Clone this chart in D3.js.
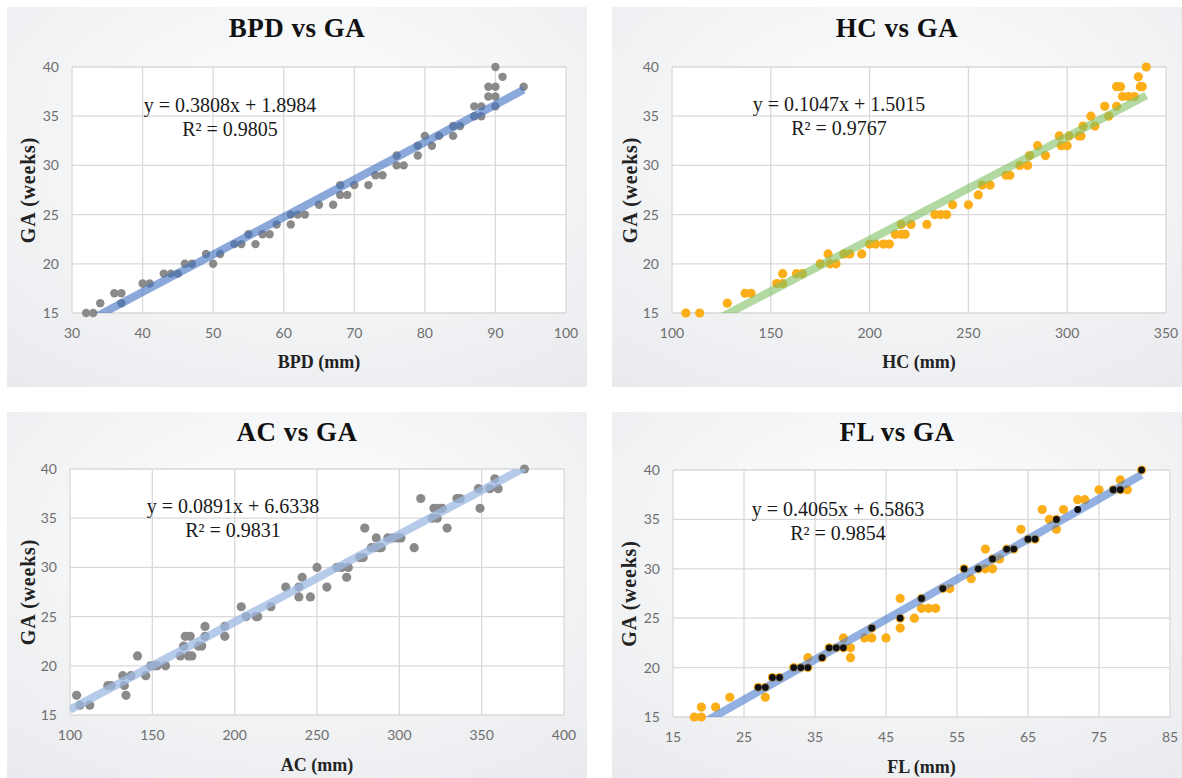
<!DOCTYPE html>
<html>
<head>
<meta charset="utf-8">
<script src="https://cdn.jsdelivr.net/npm/d3@7"></script>
<style>
  body { margin: 0; background: #ffffff; }
  svg { display: block; }
  .tick-label { font-family: Lato, "Liberation Sans", sans-serif; font-size: 14px; fill: #6e6e6e; }
  .title { font-family: "Liberation Serif", serif; font-weight: bold; font-size: 27px; fill: #111; letter-spacing: 0.5px; }
  .axis-title { font-family: "Liberation Serif", serif; font-weight: bold; font-size: 18px; fill: #222; }
  .y-title { font-size: 20px; letter-spacing: 0.8px; }
  .eq { font-family: "Liberation Serif", serif; font-size: 20px; fill: #1a1a1a; }
</style>
</head>
<body>
<svg id="chart" width="1182" height="778"></svg>
<script>
// Shared y axis (gestational age, weeks)
const gaTicks = [15, 20, 25, 30, 35, 40];

// BPD vs GA
const bpdValues = [32,33,34,36,37,37,40,41,43,44,45,46,47,49,50,51,53,54,55,56,57,58,59,61,61,62,63,65,67,68,68,69,70,72,73,74,76,76,77,79,79,80,81,82,84,84,85,87,87,88,88,89,89,90,90,90,90,91,94];
const bpdGA = [15,15,16,17,17,16,18,18,19,19,19,20,20,21,20,21,22,22,23,22,23,23,24,25,24,25,25,26,26,28,27,27,28,28,29,29,31,30,30,31,32,33,32,33,34,33,34,36,35,36,35,38,37,40,38,37,36,39,38];
const bpdTicks = [30, 40, 50, 60, 70, 80, 90, 100];
const bpdFit = [0.3808, 1.8984];
const bpdFitRange = [32, 94];

// HC vs GA
const hcValues = [107,114,128,137,140,153,156,156,163,166,175,179,180,183,187,190,196,200,203,207,210,213,216,218,216,221,229,233,236,239,242,250,255,257,261,269,271,276,280,281,285,289,296,297,300,301,306,307,308,312,314,319,321,325,325,327,328,331,334,336,337,338,340];
const hcGA = [15,15,16,17,17,18,18,19,19,19,20,21,20,20,21,21,21,22,22,22,22,23,23,23,24,24,24,25,25,25,26,26,27,28,28,29,29,30,30,31,32,31,33,32,32,33,33,33,34,35,34,36,35,36,38,38,37,37,37,39,38,38,40];
const hcTicks = [100, 150, 200, 250, 300, 350];
const hcFit = [0.1047, 1.5015];
const hcFitRange = [107, 340];

// AC vs GA
const acValues = [104,106,112,123,125,132,133,134,137,141,146,149,151,153,158,167,169,170,172,173,174,178,180,182,182,194,194,204,207,213,214,222,231,239,239,241,246,250,256,262,265,268,269,276,278,279,283,285,286,288,289,293,296,299,301,309,313,320,321,323,324,326,329,335,337,348,349,355,358,360,376];
const acGA = [17,16,16,18,18,19,18,17,19,21,19,20,20,20,20,21,22,23,21,23,21,22,22,23,24,23,24,26,25,25,25,26,28,28,27,29,27,30,28,30,30,29,30,31,31,34,32,32,33,32,32,33,33,33,33,32,37,35,36,35,36,36,34,37,37,38,36,38,39,38,40];
const acTicks = [100, 150, 200, 250, 300, 350, 400];
const acFit = [0.0891, 6.6338];
const acFitRange = [100, 376];

// FL vs GA (orange = all points, black = second series)
const flValues = [18,19,19,21,23,27,28,28,29,30,32,33,34,34,36,37,38,39,39,40,40,42,43,43,45,47,47,47,49,50,50,51,52,53,54,56,57,58,59,59,60,60,61,62,63,64,65,66,67,68,69,69,70,72,73,75,77,78,78,79,81];
const flGA = [15,15,16,16,17,18,18,17,19,19,20,20,21,20,21,22,22,22,23,22,21,23,23,24,23,27,25,24,25,26,27,26,26,28,28,30,29,30,32,30,30,31,31,32,32,34,33,33,36,35,34,35,36,37,37,38,38,39,38,38,40];
const flBlackValues = [27,28,29,30,32,33,34,36,37,38,39,43,47,50,53,56,58,60,62,63,65,66,69,72,77,78,81];
const flBlackGA = [18,18,19,19,20,20,20,21,22,22,22,24,25,27,28,30,30,31,32,32,33,33,35,36,38,38,40];
const flTicks = [15, 25, 35, 45, 55, 65, 75, 85];
const flFit = [0.4065, 6.5863];
const flFitRange = [18, 81];

const svg = d3.select("#chart");

// panel background gradient
const defs = svg.append("defs");
const grad = defs.append("radialGradient")
  .attr("id", "panelBg")
  .attr("cx", "50%").attr("cy", "35%").attr("r", "80%");
grad.append("stop").attr("offset", "0%").attr("stop-color", "#ffffff");
grad.append("stop").attr("offset", "100%").attr("stop-color", "#e9ebee");

const panels = [
  {
    title: "BPD vs GA", xLabel: "BPD (mm)",
    xs: bpdValues, ys: bpdGA, ticks: bpdTicks, fit: bpdFit, fitRange: bpdFitRange,
    r2: "0.9805",
    box: [7, 7, 580, 380], plot: [72, 67, 566, 313],
    titleY: 37, xLabelY: 368, yLabelX: 28, eq: [230, 105],
    dot: "#8a8a8a", dotR: 4.2, line: "#4472c4", lineOpacity: 0.62
  },
  {
    title: "HC vs GA", xLabel: "HC (mm)",
    xs: hcValues, ys: hcGA, ticks: hcTicks, fit: hcFit, fitRange: hcFitRange,
    r2: "0.9767",
    box: [612, 7, 570, 380], plot: [672, 67, 1166, 313],
    titleY: 37, xLabelY: 368, yLabelX: 630, eq: [839, 104],
    dot: "#fbae17", dotR: 4.6, line: "#7fc063", lineOpacity: 0.6
  },
  {
    title: "AC vs GA", xLabel: "AC (mm)",
    xs: acValues, ys: acGA, ticks: acTicks, fit: acFit, fitRange: acFitRange,
    r2: "0.9831",
    box: [7, 412, 580, 366], plot: [70, 469, 564, 715],
    titleY: 441, xLabelY: 771, yLabelX: 28, eq: [233, 506],
    dot: "#8a8a8a", dotR: 4.6, line: "#9db8e3", lineOpacity: 0.75
  },
  {
    title: "FL vs GA", xLabel: "FL (mm)",
    xs: flValues, ys: flGA, ticks: flTicks, fit: flFit, fitRange: flFitRange,
    blackXs: flBlackValues, blackYs: flBlackGA,
    r2: "0.9854",
    box: [612, 412, 570, 366], plot: [673, 470, 1170, 717],
    titleY: 441, xLabelY: 773, yLabelX: 629, eq: [838, 509],
    dot: "#fbae17", dotR: 4.6, line: "#4f7fcf", lineOpacity: 0.62
  }
];

panels.forEach((p, i) => drawPanel(p, i));

function drawPanel(p, i) {
  const [bx, by, bw, bh] = p.box;
  const [left, top, right, bottom] = p.plot;
  const g = svg.append("g");

  g.append("rect")
    .attr("x", bx).attr("y", by).attr("width", bw).attr("height", bh)
    .attr("fill", "url(#panelBg)");

  const x = d3.scaleLinear()
    .domain([p.ticks[0], p.ticks[p.ticks.length - 1]])
    .range([left, right]);
  const y = d3.scaleLinear()
    .domain([gaTicks[0], gaTicks[gaTicks.length - 1]])
    .range([bottom, top]);

  // plot area
  g.append("rect")
    .attr("x", left).attr("y", top)
    .attr("width", right - left).attr("height", bottom - top)
    .attr("fill", "#ffffff");

  // gridlines
  g.append("g").selectAll("line.h")
    .data(gaTicks).enter().append("line")
    .attr("x1", left).attr("x2", right)
    .attr("y1", d => y(d)).attr("y2", d => y(d))
    .attr("stroke", "#d9d9d9").attr("stroke-width", 1.3);
  g.append("g").selectAll("line.v")
    .data(p.ticks).enter().append("line")
    .attr("y1", top).attr("y2", bottom)
    .attr("x1", d => x(d)).attr("x2", d => x(d))
    .attr("stroke", "#d9d9d9").attr("stroke-width", 1.3);

  // tick labels
  g.append("g").selectAll("text")
    .data(gaTicks).enter().append("text")
    .attr("class", "tick-label")
    .attr("x", left - 13).attr("y", d => y(d))
    .attr("dy", "0.35em")
    .attr("text-anchor", "end")
    .text(d => d);
  g.append("g").selectAll("text")
    .data(p.ticks).enter().append("text")
    .attr("class", "tick-label")
    .attr("x", d => x(d)).attr("y", bottom + 20)
    .attr("dy", "0.35em")
    .attr("text-anchor", "middle")
    .text(d => d);

  const clipId = "clip" + i;
  defs.append("clipPath").attr("id", clipId)
    .append("rect")
    .attr("x", left).attr("y", top)
    .attr("width", right - left).attr("height", bottom - top);

  const pts = p.xs.map((v, k) => [v, p.ys[k]]);
  g.append("g").selectAll("circle")
    .data(pts).enter().append("circle")
    .attr("cx", d => x(d[0])).attr("cy", d => y(d[1]))
    .attr("r", p.dotR)
    .attr("fill", p.dot);

  // linear trendline
  const fitPts = p.fitRange.map(v => [v, p.fit[0] * v + p.fit[1]]);
  g.append("path")
    .datum(fitPts)
    .attr("clip-path", `url(#${clipId})`)
    .attr("d", d3.line().x(d => x(d[0])).y(d => y(d[1])))
    .attr("stroke", p.line)
    .attr("stroke-opacity", p.lineOpacity)
    .attr("stroke-width", 8)
    .attr("fill", "none");

  if (p.blackXs) {
    const bpts = p.blackXs.map((v, k) => [v, p.blackYs[k]]);
    g.append("g").selectAll("circle")
      .data(bpts).enter().append("circle")
      .attr("cx", d => x(d[0])).attr("cy", d => y(d[1]))
      .attr("r", 3.4)
      .attr("fill", "#111");
  }

  // equation
  g.append("text").attr("class", "eq")
    .attr("x", p.eq[0]).attr("y", p.eq[1]).attr("dy", "0.35em")
    .attr("text-anchor", "middle")
    .text(`y = ${p.fit[0]}x + ${p.fit[1]}`);
  g.append("text").attr("class", "eq")
    .attr("x", p.eq[0]).attr("y", p.eq[1] + 24).attr("dy", "0.35em")
    .attr("text-anchor", "middle")
    .text(`R² = ${p.r2}`);

  // titles
  g.append("text").attr("class", "title")
    .attr("x", bx + bw / 2).attr("y", p.titleY)
    .attr("text-anchor", "middle")
    .text(p.title);
  g.append("text").attr("class", "axis-title")
    .attr("x", (left + right) / 2).attr("y", p.xLabelY)
    .attr("text-anchor", "middle")
    .text(p.xLabel);
  g.append("text").attr("class", "axis-title y-title")
    .attr("transform", `translate(${p.yLabelX},${(top + bottom) / 2}) rotate(-90)`)
    .attr("dy", "0.35em")
    .attr("text-anchor", "middle")
    .text("GA (weeks)");
}
</script>
</body>
</html>
